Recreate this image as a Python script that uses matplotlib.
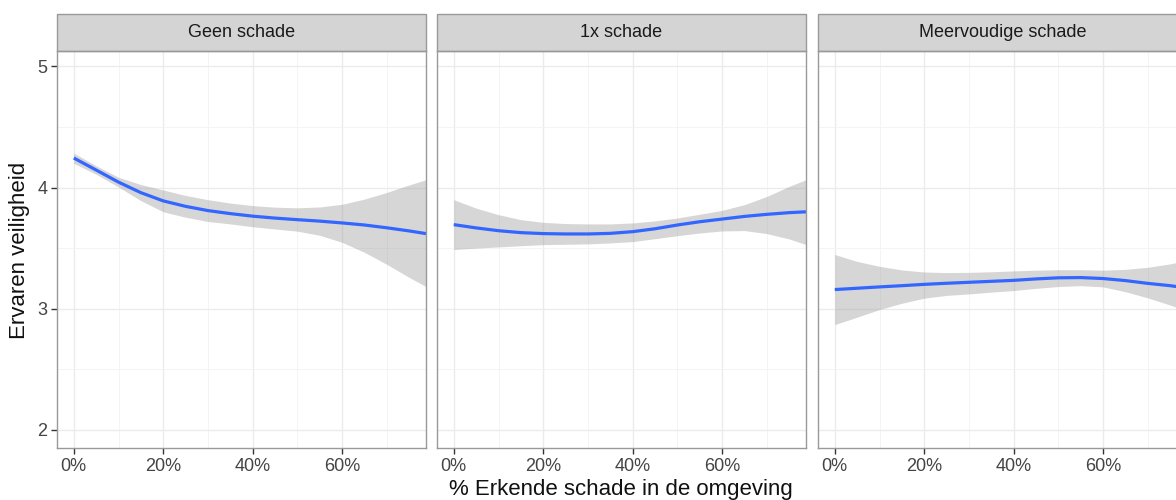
import numpy as np
import matplotlib
matplotlib.use('Agg')
import matplotlib.pyplot as plt
from matplotlib.patches import Rectangle

plt.rcParams['font.family'] = ['Liberation Sans', 'DejaVu Sans']

# facets
panels = ['Geen schade', '1x schade', 'Meervoudige schade']

# x positions of the read-off points (share of damage in the area)
x_vals = [0, 0.05, 0.1, 0.15, 0.2, 0.25, 0.3, 0.35, 0.4, 0.45, 0.5,
          0.55, 0.6, 0.65, 0.7, 0.75, 0.7875]

# smoothed fit per panel
fit_geen = [4.244, 4.145, 4.045, 3.958, 3.89, 3.845, 3.81, 3.785, 3.764,
            3.748, 3.735, 3.723, 3.708, 3.691, 3.668, 3.642, 3.62]
fit_1x = [3.694, 3.667, 3.644, 3.628, 3.62, 3.617, 3.617, 3.622, 3.636,
          3.66, 3.691, 3.718, 3.74, 3.762, 3.779, 3.793, 3.80]
fit_meer = [3.158, 3.169, 3.18, 3.19, 3.201, 3.21, 3.218, 3.226, 3.234,
            3.246, 3.255, 3.257, 3.249, 3.232, 3.209, 3.19, 3.17]

# confidence band, upper
hi_geen = [4.285, 4.18, 4.085, 4.025, 3.98, 3.935, 3.90, 3.872, 3.851,
           3.838, 3.833, 3.84, 3.862, 3.905, 3.96, 4.022, 4.065]
hi_1x = [3.90, 3.83, 3.776, 3.735, 3.713, 3.703, 3.70, 3.70, 3.708,
         3.725, 3.749, 3.78, 3.812, 3.859, 3.927, 4.01, 4.065]
hi_meer = [3.447, 3.39, 3.35, 3.32, 3.303, 3.298, 3.30, 3.305, 3.312,
           3.318, 3.322, 3.322, 3.318, 3.325, 3.342, 3.37, 3.40]

# confidence band, lower
lo_geen = [4.20, 4.11, 4.005, 3.892, 3.80, 3.755, 3.72, 3.70, 3.677,
           3.658, 3.64, 3.606, 3.548, 3.465, 3.366, 3.258, 3.183]
lo_1x = [3.488, 3.50, 3.51, 3.52, 3.529, 3.532, 3.535, 3.543, 3.554,
         3.578, 3.603, 3.625, 3.642, 3.645, 3.62, 3.576, 3.529]
lo_meer = [2.869, 2.93, 2.993, 3.045, 3.087, 3.11, 3.122, 3.137, 3.15,
           3.168, 3.183, 3.19, 3.18, 3.14, 3.089, 3.03, 2.98]

fits = [fit_geen, fit_1x, fit_meer]
his = [hi_geen, hi_1x, hi_meer]
los = [lo_geen, lo_1x, lo_meer]

x_ticks = [0, 0.2, 0.4, 0.6]
x_ticklabels = ['0%', '20%', '40%', '60%']
y_ticks = [2, 3, 4, 5]

fig = plt.figure(figsize=(11.76, 5.0), dpi=100)

W, H = 1176.0, 500.0
lefts = [57, 437, 818]
pw = 369
top, bottom = 50.7, 448

for i, name in enumerate(panels):
    ax = fig.add_axes([lefts[i] / W, (H - bottom) / H, pw / W, (bottom - top) / H])
    ax.set_xlim(-0.0375, 0.7875)
    ax.set_ylim(1.85, 5.13)

    ax.set_xticks(x_ticks)
    ax.set_xticklabels(x_ticklabels)
    ax.set_xticks([0.1, 0.3, 0.5, 0.7], minor=True)
    ax.set_yticks(y_ticks)
    ax.set_yticks([2.5, 3.5, 4.5], minor=True)
    ax.grid(which='major', color='#EBEBEB', linewidth=1.0)
    ax.grid(which='minor', color='#F3F3F3', linewidth=0.6)
    ax.set_axisbelow(True)
    ax.tick_params(which='major', length=4, width=1, color='#333333',
                   labelsize=13, labelcolor='#444444', pad=3)
    ax.tick_params(which='minor', length=0)
    if i > 0:
        ax.tick_params(axis='y', left=False, labelleft=False)

    for s in ax.spines.values():
        s.set_color('#999999')
        s.set_linewidth(1.0)

    ax.fill_between(x_vals, los[i], his[i], color='#999999', alpha=0.4,
                    linewidth=0)
    ax.plot(x_vals, fits[i], color='#3366FF', linewidth=2.3,
            solid_capstyle='butt', solid_joinstyle='round')

    # facet strip
    strip_h = 36.7 / (bottom - top)
    ax.add_patch(Rectangle((0, 1), 1, strip_h, transform=ax.transAxes,
                           facecolor='#D4D4D4', edgecolor='#999999',
                           linewidth=1.0, clip_on=False))
    ax.text(0.5, 1 + strip_h / 2, name, transform=ax.transAxes,
            ha='center', va='center', fontsize=13, color='#1A1A1A')

fig.text(621 / W, 1 - 489 / H, '% Erkende schade in de omgeving',
         ha='center', va='center', fontsize=16, color='#111111')
fig.text(20 / W, 1 - 250 / H, 'Ervaren veiligheid', rotation=90,
         ha='center', va='center', fontsize=16, color='#111111')

fig.savefig('out.png', dpi=100)
